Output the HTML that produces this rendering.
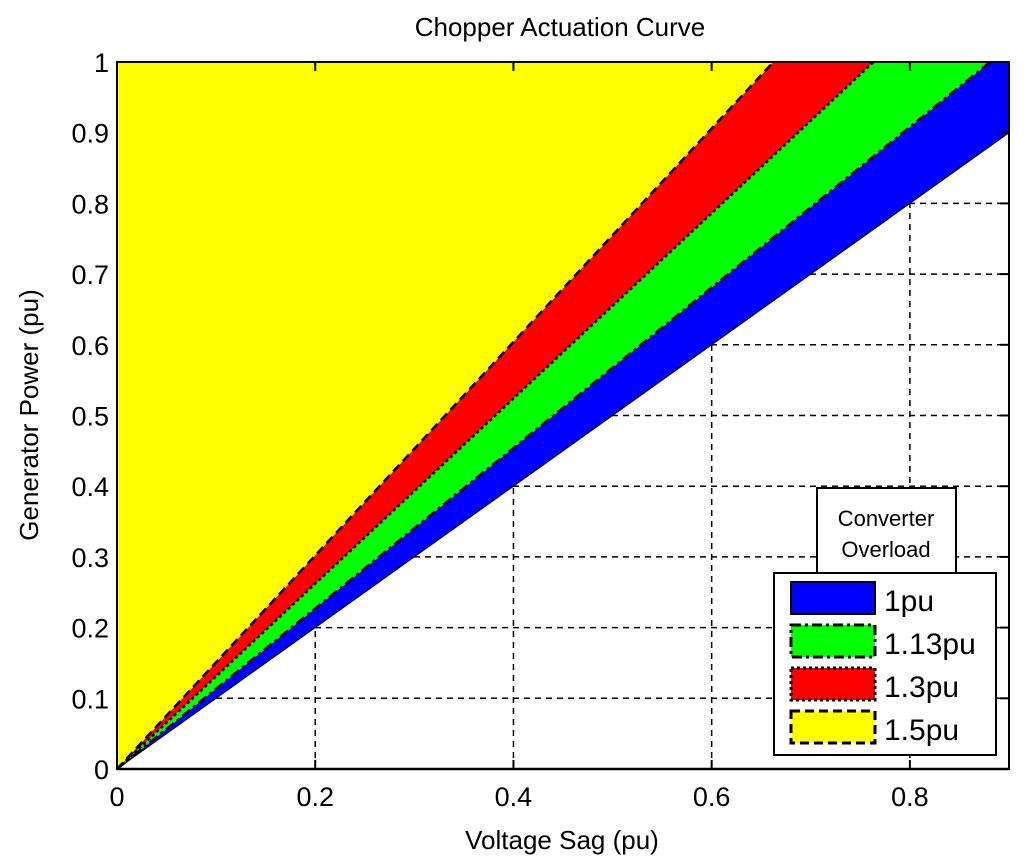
<!DOCTYPE html>
<html><head><meta charset="utf-8"><style>
html,body{margin:0;padding:0;background:#fff;width:1024px;height:867px;overflow:hidden}
svg{display:block;font-family:"Liberation Sans",sans-serif}
</style></head><body>
<svg id="chart" width="1024" height="867" viewBox="0 0 1024 867" xmlns="http://www.w3.org/2000/svg">
<text x="560" y="36" font-size="26" text-anchor="middle">Chopper Actuation Curve</text>
<text x="562" y="849" font-size="26" text-anchor="middle">Voltage Sag (pu)</text>
<text transform="translate(38,415) rotate(-90)" font-size="26" text-anchor="middle">Generator Power (pu)</text>
<g id="regions"></g><g id="grid"></g><g id="bounds"></g><g id="axes"></g><g id="legend"></g>
</svg>
<script>
const overloadLabels=["1pu","1.13pu","1.3pu","1.5pu"];
const overloadSlopes=[1.0,1.135,1.31,1.51];
const regionColors=["#0000ff","#00ff00","#ff0000","#ffff00"];
const boundaryDash=["","10 4 3 4","3 3","9 5"];
const xTicks=[0,0.2,0.4,0.6,0.8];
const xTickLabels=["0","0.2","0.4","0.6","0.8"];
const yTicks=[0,0.1,0.2,0.3,0.4,0.5,0.6,0.7,0.8,0.9,1];
const yTickLabels=["0","0.1","0.2","0.3","0.4","0.5","0.6","0.7","0.8","0.9","1"];
const X0=117,X1=1009,Y0=769,Y1=62,XMAX=0.9,YMAX=1;
const sx=v=>X0+(v/XMAX)*(X1-X0), sy=p=>Y0-(p/YMAX)*(Y0-Y1);
const NS="http://www.w3.org/2000/svg";
function mk(tag,attrs,parent){const e=document.createElementNS(NS,tag);for(const k in attrs)e.setAttribute(k,attrs[k]);parent.appendChild(e);return e;}
const R=document.getElementById('regions'),G=document.getElementById('grid'),B=document.getElementById('bounds'),A=document.getElementById('axes'),L=document.getElementById('legend');
function linePts(k){const v=Math.min(XMAX,YMAX/k);return [[0,0],[v,k*v]];}
function polyBetween(kLo,kHi){
 const lo=linePts(kLo);
 let pts;
 if(!kHi){pts=[[0,0],lo[1],...(lo[1][0]>=XMAX&&lo[1][1]<YMAX?[[XMAX,YMAX]]:[]),[0,YMAX]];}
 else{const hi=linePts(kHi);pts=[lo[0],lo[1]];if(lo[1][0]>=XMAX&&lo[1][1]<YMAX)pts.push([XMAX,YMAX]);pts.push(hi[1]);}
 return pts.map(p=>sx(p[0])+','+sy(p[1])).join(' ');
}
for(let i=0;i<overloadSlopes.length;i++){
 const hi=i+1<overloadSlopes.length?overloadSlopes[i+1]:null;
 const el=mk('polygon',{points:polyBetween(overloadSlopes[i],hi),fill:regionColors[i]},R);
 
 
}
const gp=mk('clipPath',{id:'whiteclip'},G);
mk('polygon',{points:`${sx(0)},${sy(0)} ${sx(XMAX)},${sy(overloadSlopes[0]*XMAX)} ${sx(XMAX)},${sy(0)}`},gp);
const gg=mk('g',{'clip-path':'url(#whiteclip)',stroke:'#000','stroke-dasharray':'6 5','stroke-width':'1.5'},G);
xTicks.forEach(t=>{if(t>0){const l=mk('line',{x1:sx(t),x2:sx(t),y1:Y0,y2:Y1},gg);}});
yTicks.forEach(t=>{if(t>0){const l=mk('line',{x1:X0,x2:X1,y1:sy(t),y2:sy(t)},gg);}});
for(let i=0;i<overloadSlopes.length;i++){
 const p=linePts(overloadSlopes[i]);
 const l=mk('line',{x1:sx(0),y1:sy(0),x2:sx(p[1][0]),y2:sy(p[1][1]),stroke:'#000','stroke-width':i==0?1:2.5},B);
 if(boundaryDash[i])l.setAttribute('stroke-dasharray',boundaryDash[i]);
 
 
}
mk('polyline',{points:`${sx(0)},${sy(0)} ${sx(0)},${sy(1)} ${sx(1/overloadSlopes[3])},${sy(1)}`,fill:'none',stroke:'#000','stroke-width':2,'stroke-dasharray':'9 5'},B);
const fr=mk('rect',{x:X0,y:Y1,width:X1-X0,height:Y0-Y1,fill:'none',stroke:'#000','stroke-width':2},A);

mk('line',{x1:X0,y1:Y0,x2:X1,y2:Y0,stroke:'#000','stroke-width':2.5},A);
xTicks.forEach((t,i)=>{
 mk('line',{x1:sx(t),x2:sx(t),y1:Y0,y2:Y0-9,stroke:'#000','stroke-width':2},A);
 mk('line',{x1:sx(t),x2:sx(t),y1:Y1,y2:Y1+9,stroke:'#000','stroke-width':2},A);
 const tx=mk('text',{x:sx(t),y:Y0+37,'font-size':27,'text-anchor':'middle'},A);tx.textContent=xTickLabels[i];
 
});
yTicks.forEach((t,i)=>{
 mk('line',{x1:X1,x2:X1-9,y1:sy(t),y2:sy(t),stroke:'#000','stroke-width':2},A);
 const tx=mk('text',{x:X0-8,y:sy(t)+10,'font-size':27,'text-anchor':'end'},A);tx.textContent=yTickLabels[i];
 
});
const lt=mk('g',{},L);
mk('rect',{x:817,y:488,width:139,height:86,fill:'#fff',stroke:'#000','stroke-width':2},lt);
const t1=mk('text',{x:886,y:526,'font-size':22,'text-anchor':'middle'},lt);t1.textContent='Converter';
const t2=mk('text',{x:886,y:557,'font-size':22,'text-anchor':'middle'},lt);t2.textContent='Overload';
const lb=mk('g',{},L);
mk('rect',{x:774,y:573,width:222,height:182,fill:'#fff',stroke:'#000','stroke-width':2},lb);
overloadLabels.forEach((lab,i)=>{
 const y=582+i*43;
 const g=mk('g',{},lb);
 const r=mk('rect',{x:791,y:y,width:84,height:32,fill:regionColors[i],stroke:'#000','stroke-width':i==0?2:3},g);
 if(boundaryDash[i])r.setAttribute('stroke-dasharray',boundaryDash[i]);
 const tx=mk('text',{x:884,y:y+29,'font-size':30},g);tx.textContent=lab;
});
</script>
</body></html>
